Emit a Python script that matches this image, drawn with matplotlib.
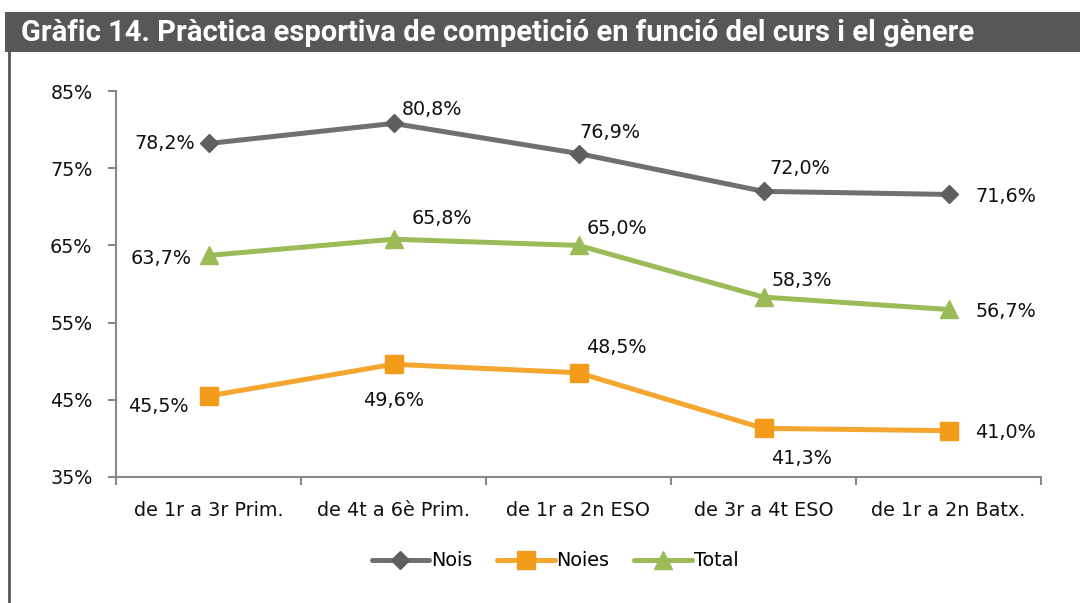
import matplotlib
matplotlib.use("Agg")
import matplotlib.pyplot as plt
from matplotlib.patches import Rectangle
from matplotlib.lines import Line2D
from matplotlib.ticker import FixedLocator, FuncFormatter

categories = ["de 1r a 3r Prim.", "de 4t a 6è Prim.", "de 1r a 2n ESO",
              "de 3r a 4t ESO", "de 1r a 2n Batx."]
nois = [78.2, 80.8, 76.9, 72.0, 71.6]
noies = [45.5, 49.6, 48.5, 41.3, 41.0]
total = [63.7, 65.8, 65.0, 58.3, 56.7]
y_ticks = [35, 45, 55, 65, 75, 85]
title = "Gràfic 14. Pràctica esportiva de competició en funció del curs i el gènere"

# label offsets in pixels (style only)
off_nois = [(-44, 0), (38, 14), (31, 21), (36, 23), (57, -2)]
off_total = [(-47, -3), (48, 21), (38, 17), (38, 17), (57, -2)]
off_noies = [(-50, -11), (0, -36), (38, 25), (38, -30), (57, -2)]

W, H = 1080, 603
fig = plt.figure(figsize=(W / 100, H / 100), dpi=100)
plt.rcParams['font.family'] = ['DejaVu Sans']
FS = 13.8

# title bar
fig.patches.append(Rectangle((5 / W, 1 - 52 / H), 1 - 5 / W, 40 / H,
                             transform=fig.transFigure, facecolor='#575757',
                             edgecolor='none', zorder=0))
fig.text(21 / W, 1 - 33 / H, title, color='white', fontsize=21, fontweight='bold',
         va='center', ha='left', family=['Roboto', 'DejaVu Sans'])
fig.lines.append(Line2D([8.5 / W, 8.5 / W], [0, 1 - 52 / H], transform=fig.transFigure,
                        color='#555555', lw=2))

ax = fig.add_axes([116 / W, 1 - 477 / H, (1041 - 116) / W, (477 - 91) / H])
x = list(range(len(categories)))

series = [
    (nois, 'Nois', '#707070', 'D', 9.5, '#5f5f5f', off_nois),
    (noies, 'Noies', '#f5a630', 's', 12.5, '#f39c1c', off_noies),
    (total, 'Total', '#9bbb59', '^', 13, '#9bbb59', off_total),
]
for vals, name, col, mk, ms, mcol, offs in series:
    ax.plot(x, vals, color=col, lw=3.6, marker=mk, markersize=ms,
            markerfacecolor=mcol, markeredgecolor=mcol, label=name,
            solid_capstyle='round', zorder=3)
    for xi, v, (dx, dy) in zip(x, vals, offs):
        ax.annotate(f"{v:.1f}%".replace('.', ','), (xi, v), xytext=(dx, dy),
                    textcoords='offset pixels', ha='center', va='center',
                    fontsize=FS, color='#111111')

ax.set_xlim(-0.5, len(categories) - 0.5)
ax.set_ylim(35, 85)
ax.set_yticks(y_ticks)
ax.yaxis.set_major_formatter(FuncFormatter(lambda v, p: f"{int(v)}%"))
ax.set_xticks(x)
ax.set_xticklabels(categories)
ax.xaxis.set_minor_locator(FixedLocator([i - 0.5 for i in range(len(categories) + 1)]))
ax.tick_params(axis='x', which='major', length=0, pad=17, labelsize=FS, labelcolor='#111111')
ax.tick_params(axis='x', which='minor', length=6, width=1.5, color='#888888')
ax.tick_params(axis='y', length=6, width=1.5, color='#888888', pad=11, labelsize=FS,
               labelcolor='#111111')
for s in ['top', 'right']:
    ax.spines[s].set_visible(False)
for s in ['left', 'bottom']:
    ax.spines[s].set_color('#888888')
    ax.spines[s].set_linewidth(1.5)

leg = fig.legend(loc='center', bbox_to_anchor=(555 / W, 1 - 561 / H), ncol=3, frameon=False,
                 fontsize=FS, handlelength=3.0, handletextpad=0.1, columnspacing=1.3)

fig.savefig('out.png', dpi=100)
